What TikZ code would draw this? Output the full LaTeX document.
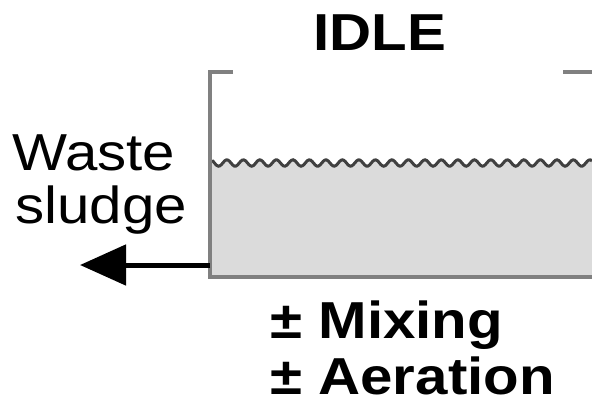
\documentclass[tikz,border=0pt]{standalone}
\usepackage{fontspec}
\setmainfont{Liberation Sans}
\usetikzlibrary{arrows.meta}
\tikzset{
  lbl/.style={anchor=base west, inner sep=0pt, xscale=1.12, transform shape, font=\fontsize{26}{30}\selectfont},
  blbl/.style={lbl, font=\fontsize{26}{30}\selectfont\bfseries},
  wall/.style={draw=black!50, line width=2pt},
  wave/.style={draw=black!75, line width=1.5pt},
  outarrow/.style={-{Triangle[length=23pt,width=20pt]}, line width=2.5pt, black}
}
\begin{document}
\begin{tikzpicture}[x=0.5pt,y=-0.5pt]
\useasboundingbox (0,0) rectangle (592,402);
% sludge fill
\fill[black!14] plot[domain=212:592, samples=240, smooth] (\x,{163+3.2*sin(21.818*\x)}) -- (592,277) -- (212,277) -- cycle;
\draw[wave] plot[domain=212:592, samples=240, smooth] (\x,{163+3.2*sin(21.818*\x)});
% tank walls
\draw[wall] (233,72) -- (210,72) -- (210,277) -- (594,277);
\draw[wall] (563,72) -- (594,72);
% labels
\node[blbl] (idle) at (313,50) {IDLE};
\node[lbl] (waste) at (12,170) {Waste};
\node[lbl] (sludge) at (15,223) {sludge};
\node[blbl] (mix) at (270,338) {± Mixing};
\node[blbl] (aer) at (270,394) {± Aeration};
% waste arrow
\coordinate (out) at (210,265);
\coordinate (tip) at (80,265);
\draw[outarrow] (out) -- (tip);
\end{tikzpicture}
\end{document}
